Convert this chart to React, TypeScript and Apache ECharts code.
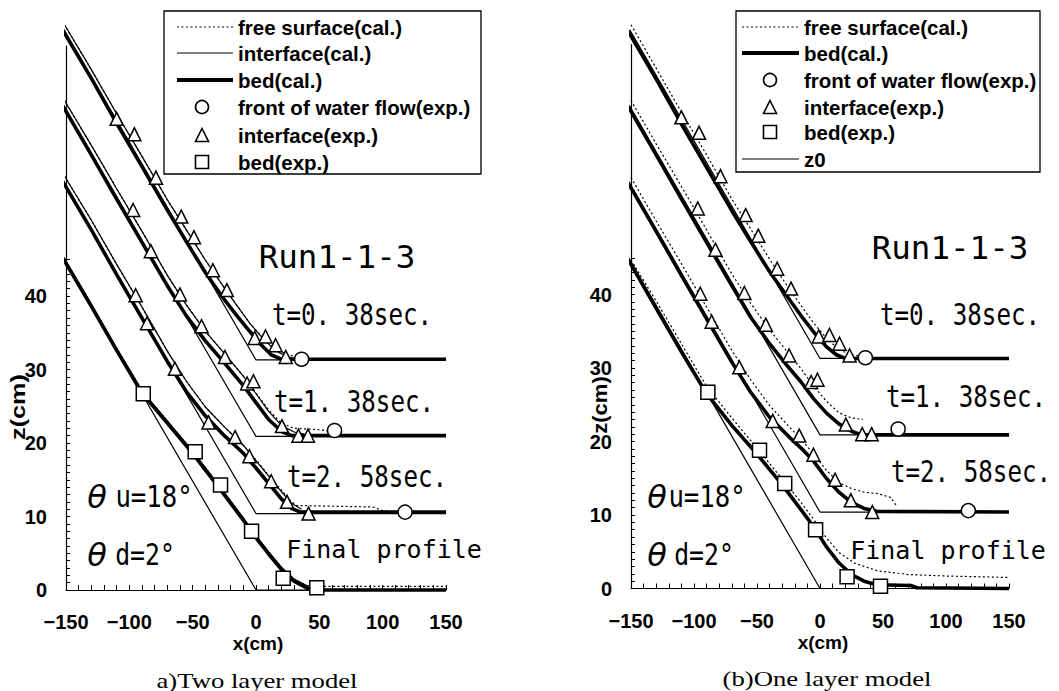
import { useEffect, useRef } from 'react';
import * as echarts from 'echarts';

// ---------- experimental data (shared by both panels) ----------
const TRI_038 = [[-110, 64.1], [-96, 62.0], [-79, 56.1], [-59, 50.8], [-49, 48.0], [-34, 43.5], [-23, 40.8], [-1, 34.3], [7.5, 34.5], [15.5, 33.3], [23.5, 31.7]];
const TRI_138 = [[-97, 51.7], [-83, 46.1], [-60, 40.2], [-43, 35.9], [-24.5, 31.7], [-7, 28.1], [-2, 28.4], [20.5, 22.3], [33.5, 21.0], [41, 21.0]];
const TRI_258 = [[-95, 40.1], [-86, 36.3], [-64, 30.1], [-37.5, 22.8], [-16.5, 20.8], [-5.2, 18.2], [12, 14.8], [24.5, 12.0], [41.5, 10.4]];
const FRONT = [[36, 31.4], [62, 21.7], [117.7, 10.6]];
const BED_EXP = [[-89, 26.7], [-48, 18.8], [-28, 14.3], [-3.5, 8.0], [21.5, 1.6], [48, 0.3]];

// ---------- initial bed z0 ----------
const Z0_038 = [[-155, 77.2], [0, 31.3], [150, 31.3]];
const Z0_138 = [[-155, 66.8], [0, 20.9], [150, 20.9]];
const Z0_258 = [[-155, 56.3], [0, 10.4], [150, 10.4]];
const Z0_FIN = [[-155, 45.9], [0, 0], [150, 0]];

// ---------- (a) two layer model ----------
const L_BED_038 = [[-155, 76.9], [-130, 69.6], [-110, 63.5], [-90, 57.6], [-70, 51.7], [-55, 47.4], [-40, 43.2], [-25, 39.5], [-15, 37.3], [-5, 35.2], [5, 33.2], [12, 32.0], [20, 31.4], [150, 31.4]];
const L_INT_038 = [[-155, 78.0], [-130, 70.8], [-110, 64.8], [-90, 59.0], [-70, 53.1], [-55, 49.0], [-40, 44.9], [-25, 41.1], [-15, 38.7], [-5, 36.3], [5, 34.3], [15, 32.6], [25, 31.7], [32, 31.5]];
const L_FS_038 = [[-155, 78.0], [-130, 70.8], [-110, 64.8], [-90, 59.0], [-70, 53.1], [-55, 49.0], [-40, 44.9], [-25, 41.1], [-15, 38.7], [-5, 36.3], [5, 34.4], [15, 32.8], [25, 32.0], [36, 31.6]];

const L_BED_138 = [[-155, 66.6], [-130, 59.2], [-110, 53.2], [-90, 47.3], [-70, 41.4], [-55, 37.3], [-40, 33.9], [-25, 30.9], [-10, 27.8], [0, 25.5], [10, 23.2], [20, 21.6], [28, 21.0], [150, 21.0]];
const L_INT_138 = [[-155, 67.7], [-130, 60.5], [-110, 54.6], [-90, 48.8], [-70, 42.8], [-55, 38.8], [-40, 35.2], [-25, 32.2], [-10, 29.1], [0, 26.7], [10, 24.3], [20, 22.4], [30, 21.5], [38, 21.2]];
const L_FS_138 = [[-155, 67.7], [-130, 60.5], [-110, 54.6], [-90, 48.8], [-70, 42.8], [-55, 38.8], [-40, 35.2], [-25, 32.2], [-10, 29.1], [0, 26.8], [10, 24.5], [20, 22.7], [30, 22.0], [42, 21.9], [50, 21.8], [58, 21.6]];

const L_BED_258 = [[-155, 56.3], [-130, 49.0], [-110, 42.9], [-90, 37.0], [-70, 31.1], [-55, 27.0], [-40, 23.7], [-25, 21.0], [-10, 18.6], [0, 16.6], [10, 14.5], [20, 12.4], [28, 11.1], [35, 10.6], [150, 10.6]];
const L_INT_258 = [[-155, 57.4], [-130, 50.3], [-110, 44.3], [-90, 38.5], [-70, 32.5], [-55, 28.4], [-40, 24.9], [-25, 22.2], [-10, 19.7], [0, 17.6], [10, 15.5], [20, 13.4], [28, 11.8], [36, 11.0]];
const L_FS_258 = [[-155, 57.4], [-130, 50.3], [-110, 44.3], [-90, 38.5], [-70, 32.5], [-55, 28.4], [-40, 24.9], [-25, 22.2], [-10, 19.7], [0, 17.7], [10, 15.6], [20, 13.6], [28, 12.0], [32, 11.5], [60, 11.4], [92, 11.3], [100, 10.8], [110, 10.6]];

const L_BED_FIN = [[-155, 45.9], [-130, 38.6], [-110, 32.6], [-90, 26.8], [-70, 22.7], [-50, 18.6], [-30, 14.1], [-10, 9.5], [0, 7.1], [10, 4.9], [20, 2.8], [30, 1.2], [40, 0.3], [45, 0], [150, 0]];
const L_INT_FIN = [[-155, 46.2], [-130, 38.9], [-110, 32.9], [-90, 27.1], [-70, 23.0], [-50, 18.9], [-30, 14.4], [-10, 9.8], [0, 7.4], [10, 5.2], [20, 3.1], [30, 1.5], [40, 0.6], [50, 0.4]];
const L_FS_FIN = [[-155, 46.2], [-130, 38.9], [-110, 32.9], [-90, 27.1], [-70, 23.0], [-50, 18.9], [-30, 14.4], [-10, 9.8], [0, 7.4], [10, 5.2], [20, 3.1], [30, 1.5], [40, 0.6], [50, 0.5], [100, 0.5], [150, 0.5]];

// ---------- (b) one layer model ----------
const R_BED_038 = [[-155, 76.6], [-130, 69.3], [-110, 63.2], [-90, 57.3], [-70, 51.4], [-55, 47.2], [-40, 43.1], [-25, 39.5], [-15, 37.1], [-5, 34.9], [5, 32.9], [13, 31.8], [20, 31.3], [150, 31.3]];
const R_FS_038 = [[-150, 76.7], [-130, 70.8], [-110, 64.8], [-90, 59.0], [-70, 53.0], [-55, 48.9], [-40, 44.8], [-25, 40.9], [-15, 38.5], [-5, 36.1], [5, 34.1], [15, 32.5], [25, 31.8], [35, 31.5]];
const R_BED_138 = [[-155, 66.4], [-130, 59.0], [-110, 53.0], [-90, 47.1], [-70, 41.2], [-55, 36.9], [-40, 33.3], [-25, 30.1], [-15, 28.1], [-5, 25.8], [5, 23.9], [15, 22.4], [25, 21.4], [33, 20.9], [150, 20.9]];
const R_FS_138 = [[-150, 66.4], [-130, 60.5], [-110, 54.7], [-90, 48.8], [-70, 42.8], [-55, 38.8], [-40, 35.2], [-25, 32.0], [-15, 29.9], [-5, 27.5], [5, 25.5], [15, 23.9], [25, 23.2], [34, 23.0]];
const R_BED_258 = [[-155, 56.0], [-130, 48.6], [-110, 42.6], [-90, 36.7], [-70, 30.8], [-55, 26.7], [-40, 23.3], [-25, 20.7], [-15, 19.1], [-5, 17.3], [5, 15.0], [15, 13.1], [25, 11.7], [35, 10.9], [45, 10.5], [150, 10.4]];
const R_FS_258 = [[-150, 55.9], [-130, 50.0], [-110, 44.2], [-90, 38.3], [-70, 32.4], [-55, 28.4], [-40, 24.9], [-25, 22.1], [-15, 20.3], [-5, 18.3], [5, 16.1], [15, 14.4], [25, 13.6], [35, 13.1], [46, 12.9], [56, 12.4], [61, 11.2]];
const R_BED_FIN = [[-155, 45.6], [-130, 38.1], [-110, 32.2], [-90, 26.5], [-70, 22.2], [-50, 18.3], [-30, 14.1], [-15, 10.7], [-5, 8.4], [5, 5.7], [15, 3.5], [25, 1.9], [35, 1.0], [45, 0.5], [72, 0.4], [77, 0.1], [150, 0]];
const R_FS_FIN = [[-150, 44.7], [-130, 39.1], [-110, 33.3], [-90, 27.5], [-70, 23.2], [-50, 19.1], [-30, 14.9], [-15, 11.7], [-5, 9.4], [5, 6.9], [15, 4.9], [28, 3.4], [46, 2.4], [70, 1.9], [100, 1.7], [150, 1.5]];

// ---------- axes ----------
const X_MIN = -150;
const X_MAX = 150;
const X_STEP = 10;
const X_LABEL_STEP = 50;
const Y_TOP = 74;
const Y_TICK_MAX = 45;
const Y_LABEL_MAX = 40;

const SANS = '"Liberation Sans", Arial, sans-serif';
const MONO = '"DejaVu Sans Mono", monospace';
const SERIF = '"Liberation Serif", serif';
const BLACK = '#000';
const PX_PER_CM = 7.35;

type Pt = number[];

function lineS(data: Pt[], kind: 'bed' | 'thin' | 'dot', axis: number) {
  const ls: any = { color: BLACK, width: 1.2 };
  if (kind === 'bed') ls.width = 3.6;
  if (kind === 'dot') { ls.width = 1.2; ls.type = [2, 2.5]; }
  return {
    type: 'line', data, xAxisIndex: axis, yAxisIndex: axis, symbol: 'none', clip: false,
    silent: true, lineStyle: ls, z: kind === 'bed' ? 4 : 3,
  };
}
function scat(data: Pt[], symbol: string, size: number, axis: number) {
  return {
    type: 'scatter', data, xAxisIndex: axis, yAxisIndex: axis, symbol, symbolSize: size, clip: false,
    silent: true, itemStyle: { color: '#fff', borderColor: BLACK, borderWidth: 1.5, opacity: 1 }, z: 6,
  };
}

function panel(left: number, width: number, y0: number) {
  const mainTop = y0 - Y_TOP * PX_PER_CM;
  const tickTop = y0 - Y_TICK_MAX * PX_PER_CM;
  return [
    { left, width, top: mainTop, height: Y_TOP * PX_PER_CM },
    { left, width, top: tickTop, height: Y_TICK_MAX * PX_PER_CM },
  ];
}

function buildOption() {
  const gL = panel(66, 380, 590);
  const gR = panel(631, 378, 588.5);
  const xMain = {
    type: 'value', min: X_MIN, max: X_MAX, interval: X_STEP,
    axisLine: { show: true, onZero: false, lineStyle: { color: BLACK, width: 1.2 } },
    axisTick: { show: true, inside: true, length: 5, lineStyle: { color: BLACK, width: 1 } },
    axisLabel: {
      margin: 22, color: BLACK, fontFamily: SANS, fontWeight: 'bold', fontSize: 20, lineHeight: 20,
      formatter: (v: number) => (v % X_LABEL_STEP === 0 ? (v < 0 ? '\u2212' + Math.abs(v) : String(v)) : ''),
    },
    splitLine: { show: false },
  };
  const xHidden = { type: 'value', min: X_MIN, max: X_MAX, show: false };
  const yMain = {
    type: 'value', min: 0, max: Y_TOP,
    axisLine: { show: true, onZero: false, lineStyle: { color: BLACK, width: 1.2 } },
    axisTick: { show: false }, axisLabel: { show: false }, splitLine: { show: false },
  };
  const yTicks = {
    type: 'value', min: 0, max: Y_TICK_MAX, interval: 1,
    axisLine: { show: false, onZero: false },
    axisTick: { show: true, inside: true, length: 4, lineStyle: { color: BLACK, width: 1 } },
    axisLabel: {
      margin: 19, color: BLACK, fontFamily: SANS, fontWeight: 'bold', fontSize: 20,
      formatter: (v: number) => (v % 10 === 0 && v <= Y_LABEL_MAX ? String(v) : ''),
    },
    splitLine: { show: false },
  };

  const series: any[] = [
    // left panel (axis 0)
    lineS(Z0_038, 'thin', 0), lineS(Z0_138, 'thin', 0), lineS(Z0_258, 'thin', 0), lineS(Z0_FIN, 'thin', 0),
    lineS(L_FS_038, 'dot', 0), lineS(L_FS_138, 'dot', 0), lineS(L_FS_258, 'dot', 0), lineS(L_FS_FIN, 'dot', 0),
    lineS(L_INT_038, 'thin', 0), lineS(L_INT_138, 'thin', 0), lineS(L_INT_258, 'thin', 0), lineS(L_INT_FIN, 'thin', 0),
    lineS(L_BED_038, 'bed', 0), lineS(L_BED_138, 'bed', 0), lineS(L_BED_258, 'bed', 0), lineS(L_BED_FIN, 'bed', 0),
    scat([...TRI_038, ...TRI_138, ...TRI_258], 'triangle', 13, 0),
    scat(FRONT, 'circle', 14, 0),
    scat(BED_EXP, 'rect', 14, 0),
    // right panel (axis 2)
    lineS(Z0_038, 'thin', 2), lineS(Z0_138, 'thin', 2), lineS(Z0_258, 'thin', 2), lineS(Z0_FIN, 'thin', 2),
    lineS(R_FS_038, 'dot', 2), lineS(R_FS_138, 'dot', 2), lineS(R_FS_258, 'dot', 2), lineS(R_FS_FIN, 'dot', 2),
    lineS(R_BED_038, 'bed', 2), lineS(R_BED_138, 'bed', 2), lineS(R_BED_258, 'bed', 2), lineS(R_BED_FIN, 'bed', 2),
    scat([...TRI_038, ...TRI_138, ...TRI_258], 'triangle', 13, 2),
    scat(FRONT, 'circle', 14, 2),
    scat(BED_EXP, 'rect', 14, 2),
  ];

  const txt = (x: number, y: number, text: string, font: any, extra: any = {}) => ({
    type: 'text', x, y, z: 100, ...extra,
    style: {
      text, fill: BLACK, align: 'center', verticalAlign: 'middle',
      textAlign: 'center', textVerticalAlign: 'middle', ...font,
    },
  });
  const ltxt = (x: number, y: number, text: string) => ({
    type: 'text', x, y, z: 100,
    style: {
      text, fill: BLACK, align: 'left', verticalAlign: 'middle', textAlign: 'left', textVerticalAlign: 'middle',
      fontFamily: SANS, fontSize: 20.5, fontWeight: 'bold',
    },
  });
  const lline = (x1: number, x2: number, y: number, w: number, dash?: number[]) => ({
    type: 'line', z: 100, shape: { x1, y1: y, x2, y2: y },
    style: { stroke: BLACK, lineWidth: w, lineDash: dash || null },
  });
  const lcirc = (cx: number, cy: number) => ({ type: 'circle', z: 100, shape: { cx, cy, r: 6.5 }, style: { fill: '#fff', stroke: BLACK, lineWidth: 1.6 } });
  const ltri = (cx: number, cy: number) => ({ type: 'polygon', z: 100, shape: { points: [[cx, cy - 6.5], [cx + 6.5, cy + 6.5], [cx - 6.5, cy + 6.5]] }, style: { fill: '#fff', stroke: BLACK, lineWidth: 1.6 } });
  const lsq = (cx: number, cy: number) => ({ type: 'rect', z: 100, shape: { x: cx - 6.5, y: cy - 6.5, width: 13, height: 13 }, style: { fill: '#fff', stroke: BLACK, lineWidth: 1.6 } });

  const mono = (size: number) => ({ fontFamily: MONO, fontSize: size });
  const theta = { fontFamily: '"DejaVu Sans", sans-serif', fontStyle: 'italic', fontSize: 32 };
  const axTitle = { fontFamily: SANS, fontSize: 19, fontWeight: 'bold', lineHeight: 19 };
  const zTitle = { fontFamily: SANS, fontSize: 21, fontWeight: 'bold' };

  const graphic: any[] = [
    // left legend
    { type: 'rect', z: 99, shape: { x: 164, y: 11, width: 317, height: 163 }, style: { fill: '#fff', stroke: BLACK, lineWidth: 1.3 } },
    lline(177, 233, 27, 1.2, [2, 2.5]), ltxt(238, 27, 'free surface(cal.)'),
    lline(177, 233, 53, 1.2), ltxt(238, 53, 'interface(cal.)'),
    lline(177, 233, 80, 3.8), ltxt(238, 80, 'bed(cal.)'),
    lcirc(202, 107), ltxt(238, 107, 'front of water flow(exp.)'),
    ltri(202, 135), ltxt(238, 135, 'interface(exp.)'),
    lsq(202, 162), ltxt(238, 162, 'bed(exp.)'),
    // right legend
    { type: 'rect', z: 99, shape: { x: 736, y: 11, width: 304, height: 161 }, style: { fill: '#fff', stroke: BLACK, lineWidth: 1.3 } },
    lline(742, 799, 27, 1.2, [2, 2.5]), ltxt(804, 27, 'free surface(cal.)'),
    lline(742, 799, 53, 3.8), ltxt(804, 53, 'bed(cal.)'),
    lcirc(770, 80), ltxt(804, 80, 'front of water flow(exp.)'),
    ltri(770, 107), ltxt(804, 107, 'interface(exp.)'),
    lsq(770, 132), ltxt(804, 132, 'bed(exp.)'),
    lline(742, 799, 159, 1.2), ltxt(804, 159, 'z0'),
    // left annotations
    txt(337, 257, 'Run1-1-3', mono(32.5)),
    txt(352, 315, 't=0. 38sec.', mono(29.5), { scaleX: 0.82 }),
    txt(354, 402, 't=1. 38sec.', mono(29.5), { scaleX: 0.82 }),
    txt(367, 477, 't=2. 58sec.', mono(29.5), { scaleX: 0.82 }),
    txt(384, 549, 'Final profile', mono(25)),
    txt(97, 497, 'θ', theta),
    txt(154, 497, 'u=18°', mono(29.5), { scaleX: 0.87 }),
    txt(97, 555, 'θ', theta),
    txt(145, 555, 'd=2°', mono(29.5), { scaleX: 0.84 }),
    // right annotations
    txt(950, 248, 'Run1-1-3', mono(32.5)),
    txt(960, 315, 't=0. 38sec.', mono(29.5), { scaleX: 0.82 }),
    txt(966, 397, 't=1. 38sec.', mono(29.5), { scaleX: 0.82 }),
    txt(971, 472, 't=2. 58sec.', mono(29.5), { scaleX: 0.82 }),
    txt(948, 550, 'Final profile', mono(25)),
    txt(657, 497, 'θ', theta),
    txt(707, 497, 'u=18°', mono(29.5), { scaleX: 0.87 }),
    txt(657, 555, 'θ', theta),
    txt(704, 555, 'd=2°', mono(29.5), { scaleX: 0.84 }),
    // axis titles
    txt(258, 643, 'x(cm)', axTitle),
    txt(823, 642, 'x(cm)', axTitle),
    txt(18, 407, 'z(cm)', zTitle, { rotation: Math.PI / 2, scaleX: 1.2 }),
    txt(600, 405, 'z(cm)', zTitle, { rotation: Math.PI / 2, scaleX: 1.05 }),
    // captions
    txt(257, 681, 'a)Two layer model', { fontFamily: SERIF, fontSize: 21 }, { scaleX: 1.27 }),
    txt(827, 679, '(b)One layer model', { fontFamily: SERIF, fontSize: 21 }, { scaleX: 1.27 }),
  ];

  return {
    animation: false,
    backgroundColor: '#fff',
    grid: [...gL, ...gR],
    xAxis: [
      { ...xMain, gridIndex: 0 }, { ...xHidden, gridIndex: 1 },
      { ...xMain, gridIndex: 2 }, { ...xHidden, gridIndex: 3 },
    ],
    yAxis: [
      { ...yMain, gridIndex: 0 }, { ...yTicks, gridIndex: 1 },
      { ...yMain, gridIndex: 2 }, { ...yTicks, gridIndex: 3 },
    ],
    series,
    graphic,
  };
}

export default function App() {
  const ref = useRef<HTMLDivElement>(null);
  useEffect(() => {
    const chart = echarts.init(ref.current!, null, { renderer: 'svg' });
    chart.setOption(buildOption() as any);
    return () => chart.dispose();
  }, []);
  return (
    <div
      ref={ref}
      style={{ position: 'absolute', left: 0, top: 0, width: 1059, height: 691, background: '#fff' }}
    />
  );
}
